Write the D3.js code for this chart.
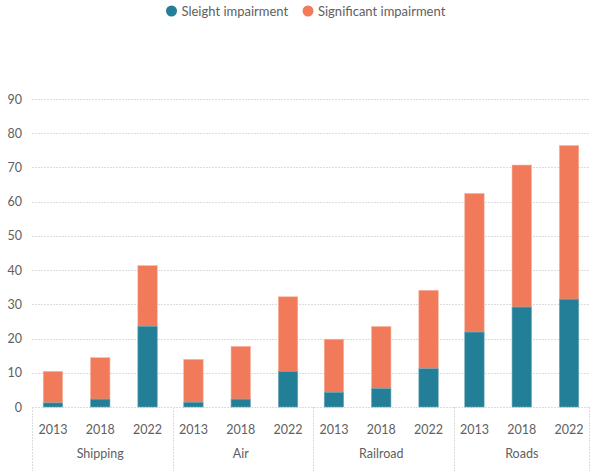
<!DOCTYPE html>
<html>
<head>
<meta charset="utf-8">
<script src="https://cdn.jsdelivr.net/npm/d3@7"></script>
<style>
  body { margin: 0; background: #fff; }
  text { font-family: Lato, "Open Sans", sans-serif; fill: #606060; }
</style>
</head>
<body>
<div id="mainChart"></div>
<script>
const categories = ['Shipping', 'Air', 'Railroad', 'Roads'];
const years = ['2013', '2018', '2022'];
// values per category, in year order
const slight = [
    [1.2, 2.3, 23.6],
    [1.4, 2.3, 10.4],
    [4.3, 5.4, 11.2],
    [21.9, 29.2, 31.5]
];
const significant = [
    [9.2, 12.1, 17.7],
    [12.5, 15.4, 21.8],
    [15.5, 18.1, 22.9],
    [40.5, 41.5, 44.9]
];
const seriesNames = ['Sleight impairment', 'Significant impairment'];
const yTicks = [0, 10, 20, 30, 40, 50, 60, 70, 80, 90];

const COLORS = ['#237e98', '#f07a59'];
const CHART_SIZE = { width: 590, height: 471 };
const MARGIN = { top: 99, right: 0, bottom: 64, left: 32 };
const zeroY = CHART_SIZE.height - MARGIN.bottom;

const svg = d3.select('#mainChart')
    .append('svg')
    .attr('width', CHART_SIZE.width)
    .attr('height', CHART_SIZE.height);

const xGroup = d3.scaleBand()
    .domain(categories)
    .range([30, 592]);

const xYear = d3.scaleBand()
    .domain(years)
    .range([0, xGroup.bandwidth()])
    .paddingInner(0.59)
    .paddingOuter(0.28);

const y = d3.scaleLinear()
    .domain([0, 90])
    .range([zeroY, MARGIN.top]);

// grid
svg.append('g')
    .selectAll('line')
    .data(yTicks)
    .join('line')
    .attr('x1', MARGIN.left)
    .attr('x2', CHART_SIZE.width)
    .attr('y1', d => Math.round(y(d)) + 0.5)
    .attr('y2', d => Math.round(y(d)) + 0.5)
    .attr('stroke', '#dcdcdc')
    .attr('stroke-dasharray', '2,1');

// y axis labels
svg.append('g')
    .attr('transform', `translate(${MARGIN.left - 10}, 0)`)
    .call(d3.axisLeft(y).tickValues(yTicks).tickSize(0).tickPadding(0))
    .call(g => g.select('.domain').remove())
    .selectAll('text')
    .style('font-family', 'Lato, "Open Sans", sans-serif')
    .style('font-size', '12.5px')
    .attr('fill', '#606060');

// category separators
const seps = categories.map(c => xGroup(c) + 2).concat([CHART_SIZE.width - 1]);
svg.append('g')
    .selectAll('line')
    .data(seps)
    .join('line')
    .attr('x1', d => Math.round(d) + 0.5)
    .attr('x2', d => Math.round(d) + 0.5)
    .attr('y1', zeroY)
    .attr('y2', CHART_SIZE.height)
    .attr('stroke', '#dcdcdc')
    .attr('stroke-dasharray', '2,1');

// bars
const groups = svg.append('g')
    .selectAll('g')
    .data(categories)
    .join('g')
    .attr('transform', c => `translate(${xGroup(c)}, 0)`);

groups.each(function (c, ci) {
    const g = d3.select(this);
    years.forEach((yr, yi) => {
        const a = slight[ci][yi];
        const b = significant[ci][yi];
        g.append('rect')
            .attr('x', xYear(yr))
            .attr('width', xYear.bandwidth())
            .attr('y', y(a + b))
            .attr('height', y(a) - y(a + b))
            .attr('fill', COLORS[1])
            .attr('stroke', '#f7b19d')
            .attr('stroke-width', 0.6);
        g.append('rect')
            .attr('x', xYear(yr))
            .attr('width', xYear.bandwidth())
            .attr('y', y(a))
            .attr('height', y(0) - y(a))
            .attr('fill', COLORS[0])
            .attr('stroke', '#6ea6b6')
            .attr('stroke-width', 0.6);
    });
    g.append('g')
        .attr('transform', `translate(0, ${zeroY})`)
        .call(d3.axisBottom(xYear).tickSize(0).tickPadding(18))
        .call(a => a.select('.domain').remove())
        .selectAll('text')
        .style('font-family', 'Lato, "Open Sans", sans-serif')
        .style('font-size', '12.5px')
        .attr('fill', '#606060');
});

// category labels
svg.append('g')
    .selectAll('text')
    .data(categories)
    .join('text')
    .attr('x', c => xGroup(c) + xGroup.bandwidth() / 2)
    .attr('y', 458)
    .attr('text-anchor', 'middle')
    .style('font-size', '12.5px')
    .text(c => c);

// legend
const legendX = [171.5, 308];
const legend = svg.append('g')
    .selectAll('g')
    .data(seriesNames)
    .join('g')
    .attr('transform', (d, i) => `translate(${legendX[i]}, 11)`);
legend.append('circle')
    .attr('r', 5.5)
    .attr('fill', (d, i) => COLORS[i]);
legend.append('text')
    .attr('x', 10)
    .attr('dy', '0.35em')
    .style('font-size', '13px')
    .text(d => d);
</script>
</body>
</html>
